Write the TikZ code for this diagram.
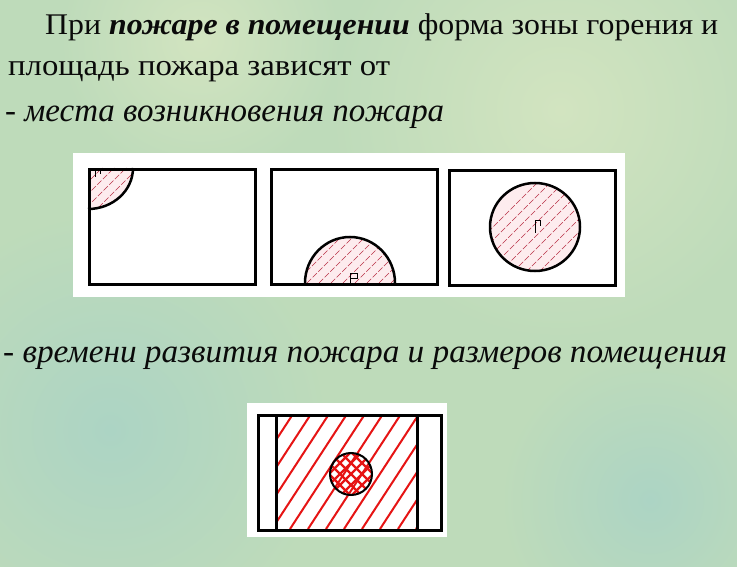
\documentclass[tikz,border=0pt]{standalone}
\usepackage{fontspec}
\setmainfont{Liberation Serif}
\usepackage{graphicx}
\definecolor{bgA}{RGB}{190,219,186}
\definecolor{bgB}{RGB}{172,212,196}
\definecolor{bgC}{RGB}{210,228,192}
\definecolor{pinkfill}{RGB}{253,236,238}
\definecolor{hatchred}{RGB}{185,50,70}
\definecolor{brightred}{RGB}{230,20,20}
\definecolor{txt}{RGB}{10,10,10}
\tikzset{
  frame/.style={draw=black, line width=3pt},
  zone/.style={draw=black, line width=2.5pt},
  thinhatch/.style={draw=hatchred, line width=0.6pt, dash pattern=on 6pt off 2pt},
  redhatch/.style={draw=brightred, line width=2pt},
  flag/.style={draw=black, line width=1pt},
  txtline/.style={anchor=base west, inner sep=0pt, text=txt, font=\fontsize{30}{36}\selectfont},
  itline/.style={txtline, font=\fontsize{33}{38}\selectfont}
}
\begin{document}
\begin{tikzpicture}[x=1pt,y=-1pt]
\useasboundingbox (0,0) rectangle (737,567);
\fill[bgA] (0,0) rectangle (737,567);
\begin{scope}
\clip (0,0) rectangle (737,567);
\shade[inner color=bgB, outer color=bgA] (110,430) circle[radius=220];
\shade[inner color=bgC, outer color=bgA] (560,110) circle[radius=230];
\shade[inner color=bgB, outer color=bgA] (650,500) circle[radius=150];
\shade[inner color=bgC, outer color=bgA] (200,40) circle[radius=140];
\end{scope}

% text
\node[txtline] (t1) at (45,35) {\resizebox{673pt}{\height}{При \textbf{\textit{пожаре в помещении}} форма зоны горения и}};
\node[txtline] (t2) at (8,76) {\resizebox{382pt}{\height}{площадь пожара зависят от}};
\node[itline] (t3) at (5,122) {\resizebox{439pt}{\height}{- \textit{места возникновения пожара}}};
\node[itline] (t4) at (3,362) {\resizebox{724pt}{\height}{- \textit{времени развития пожара и размеров помещения}}};

% top panel
\fill[white] (73,153) rectangle (625,297);

% frame 1: quarter circle at top-left corner
\begin{scope}
  \clip (88,168) -- (133,168) arc[start angle=0, end angle=90, x radius=45, y radius=41] -- cycle;
  \fill[pinkfill] (88,168) rectangle (140,215);
  \foreach \i in {0,12,...,120} \draw[thinhatch] (40+\i,230) -- ++(100,-100);
\end{scope}
\draw[zone] (133,168) arc[start angle=0, end angle=90, x radius=45, y radius=41];
\draw[flag] (95,177) -- (95,169) -- (100,169) -- (100,174);
\node[frame, minimum width=166pt, minimum height=115pt, inner sep=0pt, anchor=north west] (f1) at (88,168) {};

% frame 2: half circle at bottom
\begin{scope}
  \clip (305,283) arc[start angle=180, end angle=360, x radius=45, y radius=46] -- cycle;
  \fill[pinkfill] (300,230) rectangle (400,290);
  \foreach \i in {0,12,...,200} \draw[thinhatch] (230+\i,300) -- ++(90,-90);
\end{scope}
\draw[zone] (305,283) arc[start angle=180, end angle=360, x radius=45, y radius=46];
\draw[flag] (350,283) -- (350,273) -- (357,273) -- (357,278) -- (350,278);
\node[frame, minimum width=166pt, minimum height=115pt, inner sep=0pt, anchor=north west] (f2) at (270,168) {};

% frame 3: full circle in centre
\begin{scope}
  \clip (535,227) ellipse[x radius=45, y radius=44];
  \fill[pinkfill] (535,227) circle[radius=50];
  \foreach \i in {0,13,...,220} \draw[thinhatch] (420+\i,300) -- ++(120,-120);
\end{scope}
\draw[zone] (535,227) ellipse[x radius=45, y radius=44];
\draw[flag] (535,233) -- (535,221) -- (540,221) -- (540,226);
\node[frame, minimum width=166pt, minimum height=115pt, inner sep=0pt, anchor=north west] (f3) at (448,169) {};

% bottom panel
\fill[white] (247,403) rectangle (447,537);
\begin{scope}
  \clip (276,414) rectangle (417,529);
  \foreach \i in {0,18,...,324} \draw[redhatch] (200+\i,529) -- ++(75,-115);
\end{scope}
\begin{scope}
  \clip (351,474) circle[radius=21];
  \foreach \i in {-44,-33,...,44} {
    \draw[redhatch, line width=2.3pt] (351+\i-30,474+30) -- ++(60,-60);
    \draw[redhatch, line width=2.3pt] (351+\i-30,474-30) -- ++(60,60);
  }
\end{scope}
\node[draw=black, line width=2pt, circle, minimum size=42pt, inner sep=0pt] (c) at (351,474) {};
\node[frame, minimum width=183pt, minimum height=115pt, inner sep=0pt, anchor=north west] (f4) at (257,414) {};
\draw[frame] (f4.north west) ++(19,0) coordinate (l1) -- (l1 |- f4.south);
\draw[frame] (f4.north west) ++(160,0) coordinate (l2) -- (l2 |- f4.south);
\end{tikzpicture}
\end{document}
